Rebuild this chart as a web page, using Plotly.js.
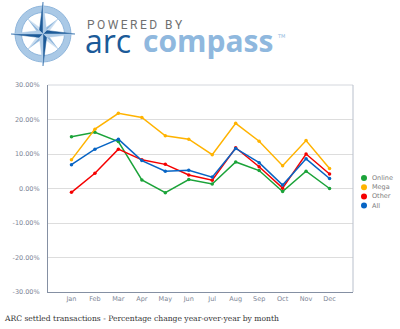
<!DOCTYPE html>
<html><head><meta charset="utf-8">
<script src="https://cdn.plot.ly/plotly-3.0.1.min.js"></script>
<style>html,body{margin:0;padding:0;background:#fff;}#chart{width:400px;height:329px;}</style>
</head><body><div id="chart"></div>
<script>
const months = ['Jan','Feb','Mar','Apr','May','Jun','Jul','Aug','Sep','Oct','Nov','Dec'];
const seriesNames = ['Online','Mega','Other','All'];
const online = [15.0, 16.3, 13.6, 2.5, -1.2, 2.6, 1.3, 7.7, 5.2, -0.9, 5.0, 0.0];
const mega   = [8.3, 17.2, 21.8, 20.6, 15.3, 14.3, 9.8, 18.9, 13.7, 6.6, 13.9, 5.8];
const other  = [-1.1, 4.4, 11.4, 8.3, 7.0, 3.9, 2.4, 11.8, 6.3, 0.1, 10.0, 4.2];
const all    = [6.9, 11.4, 14.3, 8.1, 5.0, 5.3, 3.3, 11.6, 7.5, 1.0, 8.6, 2.9];
const yTickVals = [-30, -20, -10, 0, 10, 20, 30];
const yTickText = yTickVals.map(v => v.toFixed(2) + '%');
const chartTitle = 'ARC settled transactions - Percentage change year-over-year by month';

const colors = ['#1ba339', '#ffb300', '#f50000', '#0764c4'];
const seriesData = [online, mega, other, all];

// plot area geometry in pixels
const L = 48, R = 353, T = 85, B = 292;
const W = R - L, H = B - T;
const px = x => (x - L) / W;
const py = y => (B - y) / H;

const traces = seriesData.map((d, i) => ({
  x: months, y: d, name: seriesNames[i], type: 'scatter', mode: 'lines+markers',
  line: {color: colors[i], width: 1.5}, marker: {color: colors[i], size: 3.5},
  showlegend: false, hoverinfo: 'skip'
}));

const shapes = [];
const annotations = [];

// frame top/right lighter
shapes.push({type:'line', xref:'paper', yref:'paper', x0:0, x1:1, y0:1, y1:1, line:{color:'#d4d7dd', width:1}});
shapes.push({type:'line', xref:'paper', yref:'paper', x0:1, x1:1, y0:0, y1:1, line:{color:'#b9c0cc', width:1}});

// manual legend
seriesNames.forEach((n, i) => {
  const cy = 178 + i * 9.2, cx = 364;
  shapes.push({type:'circle', xref:'paper', yref:'paper', x0:px(cx-3), x1:px(cx+3), y0:py(cy+3), y1:py(cy-3), fillcolor:colors[i], line:{width:0}});
  annotations.push({xref:'paper', yref:'paper', x:px(370), y:py(cy), xanchor:'left', yanchor:'middle', text:n, showarrow:false, font:{family:'DejaVu Sans', size:6.5, color:'#7c7c7c'}});
});

// compass logo
const cx0 = 43, cy0 = 34;
function circ(r, fill, lc, lw) {
  shapes.push({type:'circle', xref:'paper', yref:'paper', x0:px(cx0-r), x1:px(cx0+r), y0:py(cy0+r), y1:py(cy0-r), fillcolor:fill, line:{color:lc, width:lw}});
}
circ(28, '#aac9e6', '#8fb6dc', 1);
circ(21.5, '#ffffff', '#8fb6dc', 1);
function pt(r, a) { return [cx0 + r*Math.cos(a), cy0 - r*Math.sin(a)]; }
function tri(p1, p2, p3, fill) {
  const pts = [p1,p2,p3].map(p => px(p[0]).toFixed(5) + ',' + py(p[1]).toFixed(5));
  shapes.push({type:'path', xref:'paper', yref:'paper', path:'M' + pts[0] + ' L' + pts[1] + ' L' + pts[2] + ' Z', fillcolor:fill, line:{color:fill, width:0.5}});
}
// diagonal short points
for (let k = 0; k < 4; k++) {
  const a = Math.PI/4 + k*Math.PI/2;
  const tip = pt(21, a), s1 = pt(4, a + Math.PI/4), s2 = pt(4, a - Math.PI/4);
  const c = [cx0, cy0];
  tri(c, tip, s1, '#8fb6dc');
  tri(c, tip, s2, '#c9dcef');
}
// main points
for (let k = 0; k < 4; k++) {
  const a = k*Math.PI/2;
  const tip = pt(32, a), s1 = pt(5, a + Math.PI/4), s2 = pt(5, a - Math.PI/4);
  const c = [cx0, cy0];
  tri(c, tip, s1, '#1d5a98');
  tri(c, tip, s2, '#aecbe7');
}

const poweredBy = 'POWERED BY'.split('').join('\u2009');
annotations.push({xref:'paper', yref:'paper', x:px(85), y:py(25), xanchor:'left', yanchor:'middle', text:poweredBy, showarrow:false, font:{family:'Roboto', size:12, color:'#707070'}});
annotations.push({xref:'paper', yref:'paper', x:px(83), y:py(41), xanchor:'left', yanchor:'middle', text:'arc', showarrow:false, font:{family:'Open Sans', size:32, color:'#1b5a98'}});
annotations.push({xref:'paper', yref:'paper', x:px(141), y:py(41), xanchor:'left', yanchor:'middle', text:'<b>compass</b>', showarrow:false, font:{family:'Open Sans', size:30, color:'#8fb8de'}});
annotations.push({xref:'paper', yref:'paper', x:px(275), y:py(36), xanchor:'left', yanchor:'middle', text:'TM', showarrow:false, font:{family:'DejaVu Sans', size:5, color:'#8fb8de'}});

// bottom title
annotations.push({xref:'paper', yref:'paper', x:px(2), y:py(318), xanchor:'left', yanchor:'middle', text:chartTitle, showarrow:false, font:{family:'DejaVu Serif', size:7.6, color:'#333333'}});

const layout = {
  width: 400, height: 329,
  margin: {l: L, r: 400 - R, t: T, b: 329 - B, pad: 0},
  paper_bgcolor: '#ffffff', plot_bgcolor: '#ffffff',
  showlegend: false,
  xaxis: {type:'category', range:[-1, 12], showgrid:false, zeroline:false, showline:true, linecolor:'#8590a3', linewidth:1,
          ticks:'', tickfont:{family:'DejaVu Sans', size:6.5, color:'#7d8596'}, fixedrange:true},
  yaxis: {range:[-30, 30], tickvals:yTickVals, ticktext:yTickText, showgrid:true, gridcolor:'#dddddd', gridwidth:1,
          zeroline:true, zerolinecolor:'#dddddd', zerolinewidth:1, showline:true, linecolor:'#8590a3', linewidth:1,
          ticks:'', ticklabelstandoff:6, tickfont:{family:'DejaVu Sans', size:6.5, color:'#7d8596'}, fixedrange:true},
  shapes: shapes, annotations: annotations
};

Plotly.newPlot('chart', traces, layout, {displayModeBar:false, staticPlot:true});
</script></body></html>
